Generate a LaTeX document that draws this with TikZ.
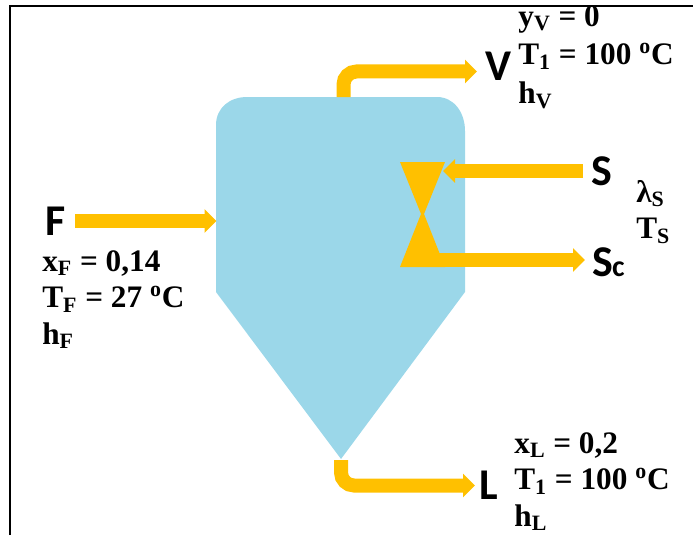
\documentclass[tikz,border=0pt]{standalone}
\usepackage{fontspec}
\setmainfont{Liberation Serif}
\newfontfamily\labelfont{Carlito}
\usetikzlibrary{arrows.meta}
\usetikzlibrary{positioning}
\tikzset{
  stream/.style={draw=pipeyellow,line width=0.28cm,-{Triangle[length=0.24cm,width=0.46cm]},rounded corners=0.26cm},
  streamname/.style={font=\labelfont\bfseries\fontsize{25}{25}\selectfont,text=black,inner sep=0pt},
  streamdata/.style={font=\bfseries\fontsize{17.8}{20.8}\selectfont,align=left,anchor=north west,inner sep=0pt},
}
\definecolor{pipeyellow}{RGB}{255,192,0}
\definecolor{tankblue}{RGB}{155,215,233}
\begin{document}
\begin{tikzpicture}
\useasboundingbox (0,0) rectangle (13.86,10.7);
\draw[black,line width=0.05cm] (0.2,0) -- (0.2,10.58) -- (13.86,10.58);
% tank
\fill[tankblue] (4.32,4.86) -- (4.32,8.2) .. controls (4.32,8.55) and (4.6,8.76) .. (4.94,8.76) -- (8.74,8.76) .. controls (9.08,8.76) and (9.3,8.45) .. (9.3,8.08) -- (9.3,4.86) -- (6.82,1.52) -- cycle;
% heating coil
\fill[pipeyellow] (8.0,7.46) -- (8.9,7.46) -- (8.48,6.42) -- (8.9,5.36) -- (8.0,5.36) -- (8.42,6.42) -- cycle;
% streams
\node[streamname] (F) at (1.12,6.28) {F};
\coordinate (Fstart) at (1.5,6.28);
\coordinate (Fend) at (4.33,6.28);
\draw[stream] (Fstart) -- (Fend);
\coordinate (Vstart) at (6.87,8.76);
\coordinate (Vbend) at (6.87,9.27);
\node[streamname] (V) at (9.96,9.38) {V};
\coordinate (Vend) at (9.54,9.27);
\draw[stream] (Vstart) -- (Vbend) -- (Vend);
\node[streamname] (S) at (12.04,7.28) {S};
\coordinate (Sstart) at (11.66,7.28);
\coordinate (Send) at (8.86,7.28);
\draw[stream] (Sstart) -- (Send);
\node[streamname,anchor=west] (Sc) at (11.84,5.45) {S\kern-0.5pt{\fontsize{17}{17}\selectfont c}};
\coordinate (Scstart) at (8.72,5.5);
\coordinate (Scend) at (11.7,5.5);
\draw[stream] (Scstart) -- (Scend);
\coordinate (Lstart) at (6.82,1.5);
\coordinate (Lbend) at (6.82,0.99);
\node[streamname] (L) at (9.78,1.0) {L};
\coordinate (Lend) at (9.5,0.99);
\draw[stream] (Lstart) -- (Lbend) -- (Lend);
% data
\node[streamdata,font=\bfseries\fontsize{17.8}{22}\selectfont] (dataV) at (10.36,10.6) {y\textsubscript{V} = 0\\T\textsubscript{1} = 100 \textsuperscript{o}C\\h\textsubscript{V}};
\node[streamdata] (dataS) at (12.72,7.1) {λ\textsubscript{S}\\T\textsubscript{S}};
\node[streamdata] (dataF) at (0.84,5.7) {x\textsubscript{F} = 0,14\\T\textsubscript{F} = 27 \textsuperscript{o}C\\h\textsubscript{F}};
\node[streamdata] (dataL) at (10.28,2.06) {x\textsubscript{L} = 0,2\\T\textsubscript{1} = 100 \textsuperscript{o}C\\h\textsubscript{L}};
\end{tikzpicture}
\end{document}
